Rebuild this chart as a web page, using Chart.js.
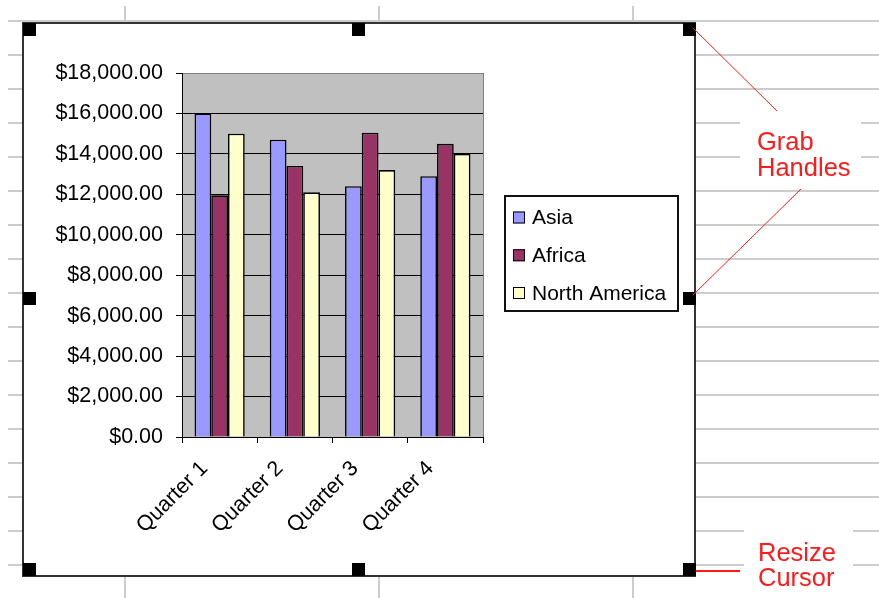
<!DOCTYPE html>
<html>
<head>
<meta charset="utf-8">
<script src="https://cdn.jsdelivr.net/npm/chart.js@4.4.1/dist/chart.umd.min.js"></script>
<style>
	html, body { margin: 0; padding: 0; background: #fff; }
	#wrap { width: 879px; height: 598px; position: relative; }
</style>
</head>
<body>
<div id="wrap"><canvas id="myChartRegions" width="879" height="598"></canvas></div>
<script>
// chart data
var categories = ["Quarter 1", "Quarter 2", "Quarter 3", "Quarter 4"];
var seriesNames = ["Asia", "Africa", "North America"];
var asia = [16000, 14700, 12400, 12900];
var africa = [11950, 13400, 15050, 14500];
var northAmerica = [15000, 12100, 13200, 14000];
var seriesColors = ["#9999ff", "#993366", "#ffffcc"];
var yMin = 0;
var yMax = 18000;
var yStep = 2000;

var font = "Liberation Sans, Arial, sans-serif";
var gridGrey = "#cccccc";
var red = "#ff1a1a";

// spreadsheet behind the chart object, frame, handles and notes
var sheetPlugin = {
	id: "sheet",
	beforeDraw: function (chart) {
		var c = chart.ctx;
		var area = chart.chartArea;
		c.save();
		c.fillStyle = "#fff";
		c.fillRect(0, 0, chart.width, chart.height);

		c.strokeStyle = gridGrey;
		c.lineWidth = 2;
		// rows
		for (var y = 21; y < 598; y += 34.03) {
			c.beginPath();
			c.moveTo(8, Math.round(y));
			c.lineTo(879, Math.round(y));
			c.stroke();
		}
		// columns
		[125, 379, 633].forEach(function (x) {
			c.beginPath();
			c.moveTo(x, 6);
			c.lineTo(x, 598);
			c.stroke();
		});

		// white boxes behind the notes
		c.fillStyle = "#fff";
		c.fillRect(740, 108, 121, 76);
		c.fillRect(744, 512, 109, 86);

		// chart object
		c.fillStyle = "#fff";
		c.fillRect(23, 23, 672, 553);
		c.strokeStyle = "#333";
		c.lineWidth = 2;
		c.strokeRect(23, 23, 672, 553);

		// plot area
		c.fillStyle = "#c0c0c0";
		c.fillRect(area.left, area.top, area.right - area.left, area.bottom - area.top);
		c.restore();
	},
	afterDraw: function (chart) {
		var c = chart.ctx;
		var area = chart.chartArea;
		c.save();

		// grey right border of the plot area
		c.strokeStyle = "#808080";
		c.lineWidth = 1;
		c.beginPath();
		c.moveTo(Math.round(area.right) + 0.5, area.top);
		c.lineTo(Math.round(area.right) + 0.5, area.bottom);
		c.stroke();

		// legend
		c.fillStyle = "#fff";
		c.fillRect(505, 196, 173, 115);
		c.strokeStyle = "#111";
		c.lineWidth = 2;
		c.strokeRect(505, 196, 173, 115);
		c.font = "21px " + font;
		c.textBaseline = "middle";
		c.textAlign = "left";
		chart.data.datasets.forEach(function (ds, i) {
			var cy = 217.5 + i * 37.75;
			c.fillStyle = ds.backgroundColor;
			c.fillRect(513, cy - 6, 12, 12);
			c.strokeStyle = "#000";
			c.lineWidth = 1;
			c.strokeRect(513.5, cy - 5.5, 11, 11);
			c.fillStyle = "#000";
			c.fillText(ds.label, 532, cy + 1);
		});

		// grab handles
		c.fillStyle = "#000";
		var hx = [23, 352, 683];
		var hy = [23, 292, 563];
		hx.forEach(function (x, xi) {
			hy.forEach(function (y, yi) {
				if (xi == 1 && yi == 1) return;
				c.fillRect(x, y, 13, 13);
			});
		});

		// notes
		c.strokeStyle = red;
		c.lineWidth = 1;
		c.beginPath();
		c.moveTo(693, 28);
		c.lineTo(777, 111);
		c.moveTo(801, 189);
		c.lineTo(693, 295);
		c.stroke();
		c.lineWidth = 2;
		c.beginPath();
		c.moveTo(696, 571);
		c.lineTo(740, 571);
		c.stroke();

		c.fillStyle = red;
		c.font = "25.5px " + font;
		c.textBaseline = "alphabetic";
		c.fillText("Grab", 757, 150);
		c.fillText("Handles", 757, 176);
		c.fillText("Resize", 758, 561);
		c.fillText("Cursor", 758, 586);
		c.restore();
	},
};

var ctx = document.getElementById("myChartRegions").getContext("2d");
var myChart = new Chart(ctx, {
	type: "bar",
	data: {
		labels: categories,
		datasets: [
			{ label: seriesNames[0], data: asia, backgroundColor: seriesColors[0] },
			{ label: seriesNames[1], data: africa, backgroundColor: seriesColors[1] },
			{ label: seriesNames[2], data: northAmerica, backgroundColor: seriesColors[2] },
		],
	},
	options: {
		responsive: false,
		animation: false,
		events: [],
		layout: { padding: { left: 0, top: 73, right: 396, bottom: 0 } },
		datasets: {
			bar: {
				borderColor: "#000",
				borderWidth: 1.6,
				categoryPercentage: 0.667,
				barPercentage: 1,
			},
		},
		scales: {
			x: {
				afterFit: function (scale) { scale.height = 161; },
				grid: {
					display: true,
					drawOnChartArea: false,
					drawTicks: true,
					tickLength: 6,
					tickColor: "#000",
					offset: true,
				},
				border: { display: true, color: "#000", width: 1 },
				ticks: {
					color: "#000",
					font: { family: font, size: 21.5 },
					minRotation: 45,
					maxRotation: 45,
					padding: 13,
					labelOffset: -15,
				},
			},
			y: {
				min: yMin,
				max: yMax,
				afterFit: function (scale) { scale.width = 182; },
				grid: {
					color: function (c) { return c.tick && c.tick.value == yMax ? "#808080" : "#000"; },
					tickColor: "#000",
					tickLength: 6,
					lineWidth: 1,
				},
				border: { display: true, color: "#000", width: 1 },
				ticks: {
					stepSize: yStep,
					color: "#000",
					padding: 13,
					font: { family: font, size: 21.5 },
					callback: function (v) {
						return "$" + v.toLocaleString("en-US", { minimumFractionDigits: 2, maximumFractionDigits: 2 });
					},
				},
			},
		},
		plugins: {
			legend: { display: false },
			tooltip: { enabled: false },
		},
	},
	plugins: [sheetPlugin],
});
</script>
</body>
</html>
